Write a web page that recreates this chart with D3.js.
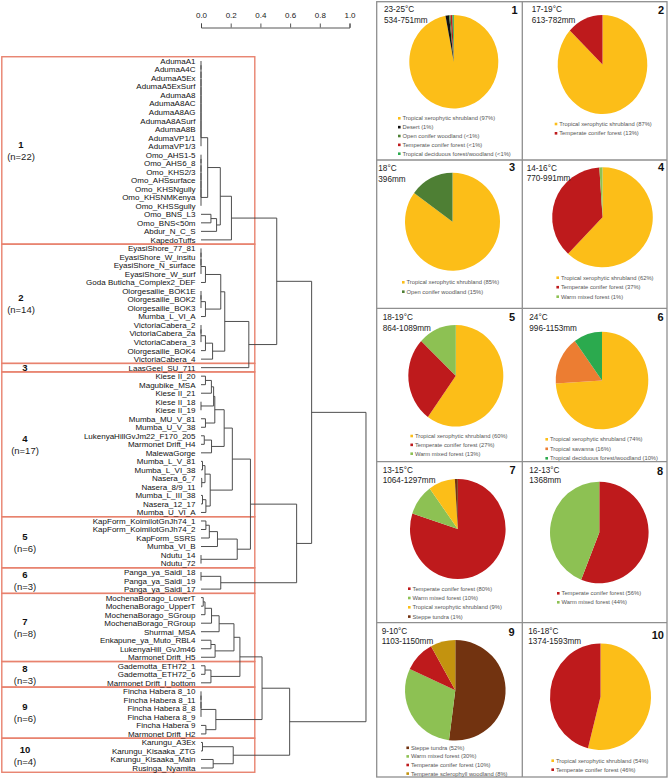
<!DOCTYPE html>
<html><head><meta charset="utf-8">
<script src="https://cdn.jsdelivr.net/npm/d3@7/dist/d3.min.js"></script>
<style>
html,body{margin:0;padding:0;background:#fff;}
svg{display:block;font-family:"Liberation Sans",Arial,Helvetica,sans-serif;}
</style></head>
<body>
<svg id="chart" width="669" height="781"></svg>
<script>
// ---------------- DATA ----------------
const leafLabels = [
"AdumaA1","AdumaA4C","AdumaA5Ex","AdumaA5ExSurf","AdumaA8","AdumaA8AC","AdumaA8AG","AdumaA8ASurf","AdumaA8B","AdumaVP1/1","AdumaVP1/3","Omo_AHS1-5","Omo_AHS6_8","Omo_KHS2/3","Omo_AHSsurface","Omo_KHSNgully","Omo_KHSNMKenya","Omo_KHSSgully","Omo_BNS_L3","Omo_BNS<50m","Abdur_N_C_S","KapedoTuffs",
"EyasiShore_77_81","EyasiShore_W_insitu","EyasiShore_N_surface","EyasiShore_W_surf","Goda Buticha_Complex2_DEF","Olorgesailie_BOK1E","Olorgesailie_BOK2","Olorgesailie_BOK3","Mumba_L_VI_A","VictoriaCabera_2","VictoriaCabera_2a","VictoriaCabera_3","Olorgesailie_BOK4","VictoriaCabera_4",
"LaasGeel_SU_711",
"Kiese II_20","Magubike_MSA","Kiese II_21","Kiese II_18","Kiese II_19","Mumba_MU_V_81","Mumba_U_V_38","LukenyaHillGvJm22_F170_205","Marmonet Drift_H4","MalewaGorge","Mumba_L_V_81","Mumba_L_VI_38","Nasera_6_7","Nasera_8/9_11","Mumba_L_III_38","Nasera_12_17","Mumba_U_VI_A",
"KapForm_KoimilotGnJh74_1","KapForm_KoimilotGnJh74_2","KapForm_SSRS","Mumba_VI_B","Ndutu_14","Ndutu_72",
"Panga_ya_Saidi_18","Panga_ya_Saidi_19","Panga_ya_Saidi_17",
"MochenaBorago_LowerT","MochenaBorago_UpperT","MochenaBorago_SGroup","MochenaBorago_RGroup","Shurmai_MSA","Enkapune_ya_Muto_RBL4","LukenyaHill_GvJm46","Marmonet Drift_H5",
"Gademotta_ETH72_1","Gademotta_ETH72_6","Marmonet Drift_I_bottom",
"Fincha Habera 8_10","Fincha Habera 8_11","Fincha Habera 8_8","Fincha Habera 8_9","Fincha Habera 9","Marmonet Drift_H2",
"Karungu_A3Ex","Karungu_Kisaaka_ZTG","Karungu_Kisaaka_Main","Rusinga_Nyamita"];

// cluster ids and sizes (in leaf order)
const clusterIds = ["1","2","3","4","5","6","7","8","9","10"];
const clusterSizes = [22,14,1,17,6,3,8,3,6,4];

// dendrogram: [height, left, right]; numbers are leaf indices
const groupAduma = [0,[0,[0,[0,[0,[0,[0,[0,[0,[0,0,1],2],3],4],5],6],7],8],9],10];
const groupOmo = [0,[0,[0,[0,[0,[0,11,12],13],14],15],16],17];
const tree =
[1.111,
  [0.745,
    [0.51,
      [0.205,
        [0.13,
          [0.045, groupAduma, groupOmo],
          [0.105, [0.067, 18, 19], 20]],
        21],
      [0.322,
        [0.16,
          [0.133,
            [0.03, [0,[0,[0,22,23],24],25], 26],
            [0.03, [0,[0,27,28],29], 30]],
          [0.078, [0.03, [0,[0,31,32],33], 34], 35]],
        36]],
    [0.644,
      [0.333,
        [0.211,
          [0.156,
            [0.093,
              [0.085, [0.07, [0.03, 37, 38], 39], [0, 40, 41]],
              [0.03, 42, 43]],
            [0.071, [0.022, 44, 45], 46]],
          [0.062,
            [0.027, [0.01, 47, 48], [0.005, 49, 50]],
            [0.033, [0.01, 51, 52], 53]]],
        [0.244,
          [0.111, [0.056, [0.033, 54, 55], 56], 57],
          [0, 58, 59]]],
      [0.133, [0, 60, 61], 62]]],
  [0.597,
    [0.411,
      [0.262,
        [0.222,
          [0.122, [0.071, [0.027, [0.015, 63, 64], 65], 66], 67],
          [0.095, [0.067, 68, 69], 70]],
        [0.067, [0.027, 71, 72], 73]],
      [0.1, [0,[0,[0,74,75],76],77], [0.033, 78, 79]]],
    [0.217, [0.01, 80, 81], [0.082, 82, 83]]]];

const axisTicks = [0, 0.2, 0.4, 0.6, 0.8, 1.0];

// biomes
const biomeNames = ["Tropical xerophytic shrubland","Desert","Open conifer woodland","Temperate conifer forest",
  "Tropical deciduous forest/woodland","Warm mixed forest","Tropical savanna","Steppe tundra","Temperate sclerophyll woodland"];
const biomeColors = ["#FCBE18","#111111","#4E7F34","#BE1A1C","#2BAA4E","#8DC153","#EC7D32","#723310","#C3930F"];

// pie panels
const panelNumbers = ["1","2","3","4","5","6","7","8","9","10"];
const panelTemps = ["23-25°C","17-19°C","18°C","14-16°C","18-19°C","24°C","13-15°C","12-13°C","9-10°C","16-18°C"];
const panelPrecip = ["534-751mm","613-782mm","396mm","770-991mm","864-1089mm","996-1153mm","1064-1297mm","1368mm","1103-1150mm","1374-1593mm"];
const panelBiomes = [[0,1,2,3,4],[0,3],[0,2],[0,3,5],[0,3,5],[0,6,4],[3,5,0,7],[3,5],[7,5,3,8],[0,3]];
const panelValues = [[97,1.3,0.5,0.7,0.5],[87,13],[85,15],[62,37,1],[60,27,13],[74,16,10],[80,10,9,1],[56,44],[52,30,10,8],[54,46]];
const panelPctText = [["97%","1%","<1%","<1%","<1%"],["87%","13%"],["85%","15%"],["62%","37%","1%"],["60%","27%","13%"],
  ["74%","16%","10%"],["80%","10%","9%","1%"],["56%","44%"],["52%","30%","10%","8%"],["54%","46%"]];

// ---------------- LAYOUT ----------------
const svg = d3.select("#chart");
svg.append("rect").attr("width",669).attr("height",781).attr("fill","#fff");
const font = '"Liberation Sans",Arial,Helvetica,sans-serif';

const x = d3.scaleLinear().domain([0,1]).range([201,349.5]);
const y = d3.scaleLinear().domain([0, leafLabels.length-1]).range([61,768]);

// cluster boxes
const boxColor = "#E8826E";
let start = 0;
const clusters = clusterSizes.map((n,i)=>{const c={id:clusterIds[i],n,s:start,e:start+n-1}; start+=n; return c;});
const gBox = svg.append("g");
clusters.forEach((c,i)=>{
  const y0 = y(c.s-0.5), y1 = y(c.e+0.5);
  gBox.append("rect").attr("x",1.8).attr("y",y0).attr("width",253).attr("height",y1-y0)
    .attr("fill","none").attr("stroke",boxColor).attr("stroke-width",1.4);
  const mid = (y(c.s)+y(c.e))/2;
  const cx = i<2 ? 21 : 25;
  if (c.n>1){
    gBox.append("text").attr("x",cx).attr("y",mid-6+3.4).attr("text-anchor","middle")
      .attr("font-size",9.5).attr("font-weight","bold").attr("fill","#111").text(c.id);
    gBox.append("text").attr("x",cx).attr("y",mid+6+3.4).attr("text-anchor","middle")
      .attr("font-size",9.5).attr("fill","#222").text("(n="+c.n+")");
  } else {
    gBox.append("text").attr("x",cx).attr("y",mid+3.4).attr("text-anchor","middle")
      .attr("font-size",9.5).attr("font-weight","bold").attr("fill","#111").text(c.id);
  }
});

// dendrogram
function build(n){ return (typeof n==="number") ? {leaf:n,h:0} : {h:n[0],children:[build(n[1]),build(n[2])]}; }
const root = d3.hierarchy(build(tree));
root.eachAfter(nd=>{
  nd.py = nd.children ? d3.mean(nd.children, c=>c.py) : y(nd.data.leaf);
  nd.px = x(nd.data.h);
});
const gTree = svg.append("g").attr("fill","none").attr("stroke","#444").attr("stroke-width",0.95);
root.each(nd=>{
  if(!nd.children) return;
  const [a,b] = nd.children;
  const p = d3.path();
  p.moveTo(a.px, a.py); p.lineTo(nd.px, a.py); p.lineTo(nd.px, b.py); p.lineTo(b.px, b.py);
  gTree.append("path").attr("d", p.toString());
});

// leaf labels
svg.append("g").selectAll("text").data(root.leaves()).join("text")
  .attr("x",195.5).attr("y",d=>d.py+2.9).attr("text-anchor","end")
  .attr("font-size",8).attr("fill","#111").text(d=>leafLabels[d.data.leaf]);

// axis
const axis = d3.axisTop(x).tickValues(axisTicks).tickFormat(d3.format(".1f")).tickSize(4).tickSizeOuter(4).tickPadding(5.5);
const gAxis = svg.append("g").attr("transform","translate(0,27.5)").call(axis);
gAxis.selectAll("text").attr("font-size",8).attr("font-family",font).attr("fill","#222");
gAxis.selectAll("line,path").attr("stroke","#444").attr("stroke-width",0.9);

// ---------------- PIE PANELS ----------------
const rowsY = [1.7,160,308.3,461.7,622.7,777];
const colsX = [376.7,522.3,667];
const gridColor = "#8f8f8f";
const gGrid = svg.append("g").attr("stroke",gridColor).attr("stroke-width",1.3).attr("fill","none");
gGrid.append("rect").attr("x",colsX[0]).attr("y",rowsY[0]).attr("width",colsX[2]-colsX[0]).attr("height",rowsY[5]-rowsY[0]);
gGrid.append("line").attr("x1",colsX[1]).attr("x2",colsX[1]).attr("y1",rowsY[0]).attr("y2",rowsY[5]);
rowsY.slice(1,5).forEach(v=>gGrid.append("line").attr("x1",colsX[0]).attr("x2",colsX[2]).attr("y1",v).attr("y2",v));

const panelLayout = [
 {cx:453.8,cy:61.7,rx:44.5,ry:46.7, tx:384,  ty:9.3,  nx:517.5,ny:10,   lx:399.3,ly:118.3,ls:8.85},
 {cx:602.5,cy:64.5,rx:44.8,ry:49.5, tx:531.7,ty:9.3,  nx:664,  ny:10,   lx:556,  ly:124,  ls:9.3},
 {cx:452.5,cy:221.7,rx:47.5,ry:49,  tx:378.3,ty:168.3,nx:515,  ny:166.7,lx:403.3,ly:282.3,ls:9.4},
 {cx:602.5,cy:217.3,rx:50.3,ry:50,  tx:526.7,ty:167.7,nx:664,  ny:166.7,lx:557.7,ly:277.7,ls:9.5},
 {cx:455.8,cy:375.8,rx:47.5,ry:50.8,tx:382.7,ty:317.3,nx:515,  ny:316.7,lx:411.7,ly:436,  ls:8.85},
 {cx:602,  cy:380.5,rx:46.3,ry:48.8,tx:529.3,ty:317.3,nx:663.5,ny:316.7,lx:546.7,ly:439.3,ls:9.5},
 {cx:457.8,cy:529,  rx:47.8,ry:50,  tx:382.7,ty:470,  nx:515.5,ny:470,  lx:409.3,ly:588.7,ls:9.3},
 {cx:599.3,cy:532.5,rx:49.3,ry:50.8,tx:529.3,ty:470,  nx:663,  ny:470.7,lx:558.3,ly:593.3,ls:9},
 {cx:455.3,cy:690.3,rx:50.3,ry:50.3,tx:381.7,ty:630.7,nx:514.5,ny:631.7,lx:407.7,ly:747.8,ls:8.6},
 {cx:600.5,cy:696.7,rx:50.5,ry:53.3,tx:528.3,ty:630.7,nx:664,  ny:635,  lx:552.7,ly:760.7,ls:9}
];

const pie = d3.pie().sort(null).value(d=>d.v);
const R = 50;
const arc = d3.arc().innerRadius(0).outerRadius(R);

panelLayout.forEach((L,i)=>{
  const g = svg.append("g");
  const items = panelBiomes[i].map((b,k)=>({b, v:panelValues[i][k], t:panelPctText[i][k]}));
  g.append("g").attr("transform",`translate(${L.cx},${L.cy}) scale(${L.rx/R},${L.ry/R})`)
    .selectAll("path").data(pie(items)).join("path")
    .attr("d",arc).attr("fill",d=>biomeColors[d.data.b]);
  g.append("text").attr("x",L.tx).attr("y",L.ty+2.9).attr("font-size",8.2).attr("fill","#222").text(panelTemps[i]);
  g.append("text").attr("x",L.tx).attr("y",L.ty+10.4+2.9).attr("font-size",8.2).attr("fill","#222").text(panelPrecip[i]);
  g.append("text").attr("x",L.nx).attr("y",L.ny+3.9).attr("text-anchor","end").attr("font-size",11)
    .attr("font-weight","bold").attr("fill","#111").text(panelNumbers[i]);
  const lg = g.append("g");
  items.forEach((it,k)=>{
    const yy = L.ly + k*L.ls;
    lg.append("rect").attr("x",L.lx-1.3).attr("y",yy-1.3).attr("width",2.6).attr("height",2.6).attr("fill",biomeColors[it.b]);
    lg.append("text").attr("x",L.lx+3.2).attr("y",yy+2).attr("font-size",5.8).attr("fill","#555")
      .text(`${biomeNames[it.b]} (${it.t})`);
  });
});
</script>
</body></html>
